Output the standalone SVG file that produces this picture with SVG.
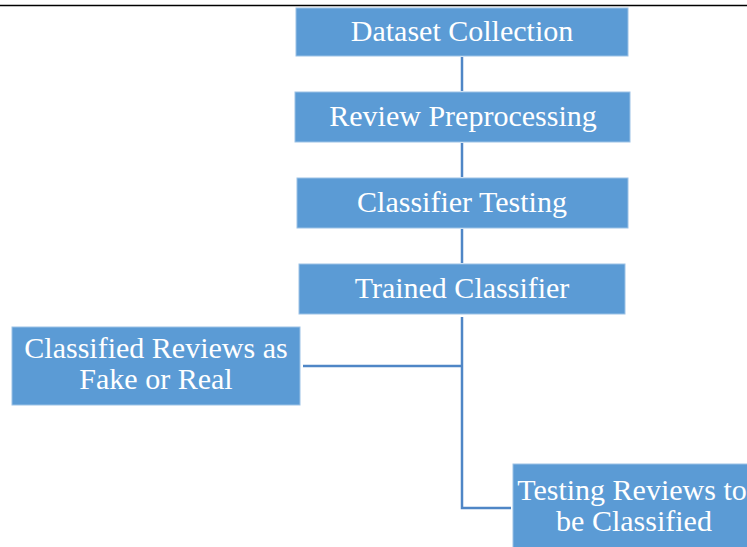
<svg xmlns="http://www.w3.org/2000/svg" width="747" height="547" viewBox="0 0 747 547">
<style>
.box{fill:#5b9bd5;stroke:#9cc2e6;stroke-width:1}
.t{fill:#ffffff;font-family:"Liberation Serif","Times New Roman",serif;font-size:30px;text-anchor:middle}
.c{stroke:#4f86c6;stroke-width:2.5;fill:none}
</style>
<rect width="747" height="547" fill="#ffffff"/>
<line x1="0" y1="5.5" x2="747" y2="5.5" stroke="#000000" stroke-width="1.5"/>
<g id="connectors">
<line class="c" x1="462" y1="57" x2="462" y2="91"/>
<line class="c" x1="462" y1="143" x2="462" y2="177"/>
<line class="c" x1="462" y1="229" x2="462" y2="263"/>
<polyline class="c" points="462,317 462,508 511,508"/>
<line class="c" x1="303" y1="366" x2="462" y2="366"/>
</g>
<g id="dataset-collection">
<rect class="box" x="296" y="8" width="332" height="48"/>
<text class="t" x="462" y="41">Dataset Collection</text>
</g>
<g id="review-preprocessing">
<rect class="box" x="295" y="92" width="335" height="50"/>
<text class="t" x="463" y="126">Review Preprocessing</text>
</g>
<g id="classifier-testing">
<rect class="box" x="297" y="178" width="331" height="50"/>
<text class="t" x="462" y="212">Classifier Testing</text>
</g>
<g id="trained-classifier">
<rect class="box" x="299" y="264" width="326" height="50"/>
<text class="t" x="462" y="298">Trained Classifier</text>
</g>
<g id="classified-reviews">
<rect class="box" x="12" y="327" width="288" height="78"/>
<text class="t" x="156" y="358">Classified Reviews as</text>
<text class="t" x="156" y="389">Fake or Real</text>
</g>
<g id="testing-reviews">
<rect class="box" x="513" y="464" width="240" height="90"/>
<text class="t" x="632" y="500">Testing Reviews to</text>
<text class="t" x="634" y="531">be Classified</text>
</g>
</svg>
